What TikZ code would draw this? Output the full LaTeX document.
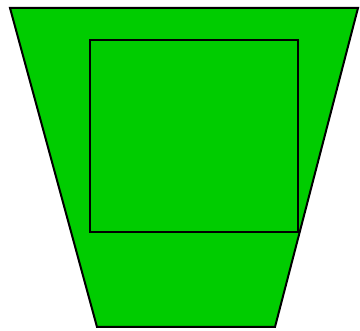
\documentclass[tikz,border=0pt]{standalone}
\usepackage{tikz}
\usepackage{xcolor}
\definecolor{leafgreen}{RGB}{0,204,0}

\begin{document}
\begin{tikzpicture}[x=1pt,y=-1pt,line width=2pt]
\useasboundingbox (0,0) rectangle (360,331);
\fill[white] (0,0) rectangle (360,331);
% trapezoid body
\draw[fill=leafgreen,line join=miter] (10,8) -- (358,8) -- (275,327) -- (97,327) -- cycle;
% inner square
\draw (90,40) rectangle (298,232);
\end{tikzpicture}
\end{document}
